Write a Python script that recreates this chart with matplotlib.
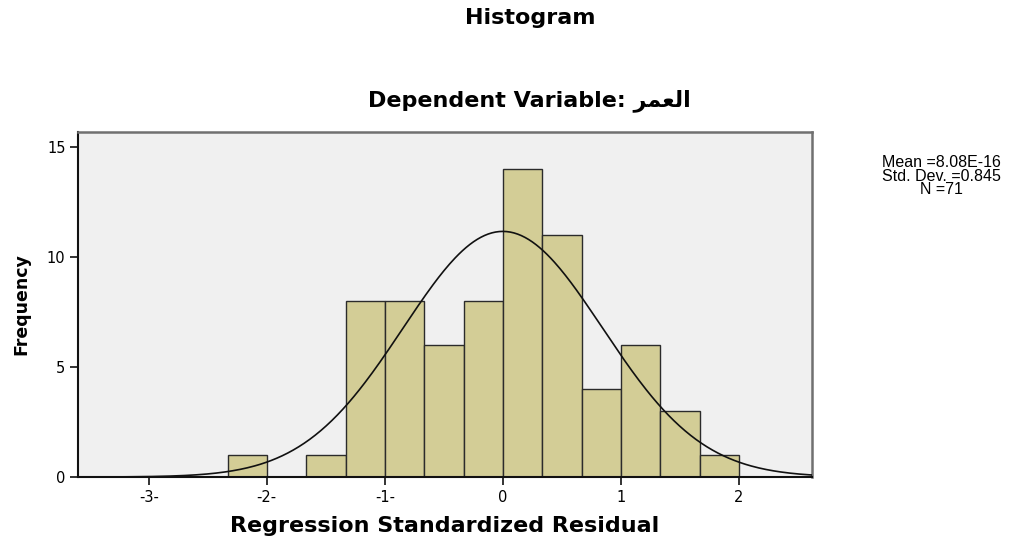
#!/usr/bin/env python3

"""SPSS style histogram of regression standardized residuals"""

import numpy as np
import matplotlib
matplotlib.use("Agg")
import matplotlib.pyplot as plt

# bin edges (width 1/3) and counts
bin_edges = [-2.333, -2.0, -1.667, -1.333, -1.0, -0.667, -0.333,
             0.0, 0.333, 0.667, 1.0, 1.333, 1.667, 2.0]
counts = [1, 0, 1, 8, 8, 6, 8, 14, 11, 4, 6, 3, 1]

mean = 8.08e-16
std = 0.845
n = 71

xticks = [-3, -2, -1, 0, 1, 2]
xtick_labels = ["-3-", "-2-", "-1-", "0", "1", "2"]
yticks = [0, 5, 10, 15]

arabic_word = "\uFEAE\uFEE4\uFECC\uFEDF\uFE8D"  # العمر, shaped, visual order

plt.rcParams["font.family"] = ["DejaVu Sans"]

fig = plt.figure(figsize=(10.17, 5.37), dpi=100)
ax = fig.add_axes([0.0767, 0.1117, 0.7217, 0.6425])
ax.set_facecolor("#F0F0F0")

lefts = bin_edges[:-1]
widths = np.diff(bin_edges)
ax.bar(lefts, counts, width=widths, align="edge", color="#D3CD96",
       edgecolor="#2b2b2b", linewidth=1.0, zorder=2)

# normal curve scaled to the histogram
bw = widths[0]
x = np.linspace(-3.6, 2.62, 400)
y = n * bw * np.exp(-0.5 * ((x - mean) / std) ** 2) / (std * np.sqrt(2 * np.pi))
ax.plot(x, y, color="#111111", linewidth=1.2, zorder=3)

ax.set_xlim(-3.6, 2.62)
ax.set_ylim(0, 15.68)
ax.set_xticks(xticks)
ax.set_xticklabels(xtick_labels)
ax.set_yticks(yticks)
ax.tick_params(axis="both", direction="out", length=6, width=1.2,
               labelsize=10.5, color="#111111", pad=3)

for side in ["left", "bottom"]:
    ax.spines[side].set_color("#111111")
    ax.spines[side].set_linewidth(1.5)
for side in ["top", "right"]:
    ax.spines[side].set_color("#707070")
    ax.spines[side].set_linewidth(1.8)

ax.set_xlabel("Regression Standardized Residual", fontsize=16,
              fontweight="bold", labelpad=8)
ax.set_ylabel("Frequency", fontsize=12.5, fontweight="heavy", labelpad=12)

fig.text(0.521, 0.966, "Histogram", ha="center", va="center",
         fontsize=16, fontweight="bold")
fig.text(0.521, 0.812, "Dependent Variable: " + arabic_word, ha="center",
         va="center", fontsize=16, fontweight="bold")

fig.text(0.926, 0.672,
         "Mean =8.08E-16\nStd. Dev. =0.845\nN =71",
         ha="center", va="center", fontsize=11.5, linespacing=0.85,
         family=["Liberation Sans", "DejaVu Sans"])

fig.savefig("out.png", dpi=100, facecolor="white")
plt.close(fig)
